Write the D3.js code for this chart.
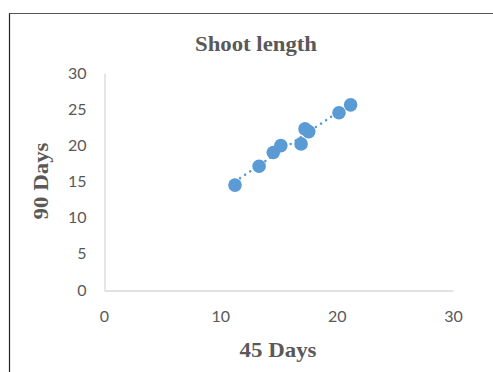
<!DOCTYPE html>
<html><head><meta charset="utf-8">
<script src="https://cdn.jsdelivr.net/npm/d3@7"></script>
<style>body{margin:0;background:#fff}svg{display:block}</style>
</head><body>
<svg id="c" width="493" height="372"></svg>
<script>
const days45 = [11.26, 13.33, 14.55, 15.2, 16.94, 17.28, 17.6, 20.2, 21.2];
const days90 = [14.5, 17.1, 19.0, 19.96, 20.2, 22.27, 21.9, 24.5, 25.6];
const xTicks = [0, 10, 20, 30];
const yTicks = [0, 5, 10, 15, 20, 25, 30];
const title = "Shoot length";
const xTitle = "45 Days";
const yTitle = "90 Days";

const svg = d3.select("#c");
// outer frame
svg.append("line").attr("x1",9.5).attr("x2",9.5).attr("y1",13).attr("y2",372).attr("stroke","#222").attr("stroke-width",1.2);
svg.append("line").attr("x1",9).attr("x2",493).attr("y1",13.5).attr("y2",13.5).attr("stroke","#555").attr("stroke-width",1.2);

const x = d3.scaleLinear().domain([0,30]).range([104,453]);
const y = d3.scaleLinear().domain([0,30]).range([290,73]);

const font = "Lato, 'Open Sans', sans-serif";
const xAxis = svg.append("g").attr("transform","translate(0,290.5)")
  .call(d3.axisBottom(x).tickValues(xTicks).tickSize(0).tickPadding(20));
const yAxis = svg.append("g").attr("transform","translate(104.5,0)")
  .call(d3.axisLeft(y).tickValues(yTicks).tickSize(0).tickPadding(18));
[xAxis,yAxis].forEach(a=>{
  a.select(".domain").attr("stroke","#d9d9d9").attr("stroke-width",1.3);
  a.selectAll("text").attr("fill","#595959").attr("font-size",16).attr("font-family",font);
});

// trendline (least squares)
const mx = d3.mean(days45), my = d3.mean(days90);
const slope = d3.sum(days45.map((v,i)=>(v-mx)*(days90[i]-my))) / d3.sum(days45.map(v=>(v-mx)**2));
const icpt = my - slope*mx;
const x0 = d3.min(days45), x1 = d3.max(days45);
svg.append("line")
  .attr("x1",x(x0)).attr("y1",y(icpt+slope*x0))
  .attr("x2",x(x1)).attr("y2",y(icpt+slope*x1))
  .attr("stroke","#5b9bd5").attr("stroke-width",2.5)
  .attr("stroke-dasharray","0.1 6").attr("stroke-linecap","round");

svg.append("g").selectAll("circle").data(days45).join("circle")
  .attr("cx",(d)=>x(d)).attr("cy",(d,i)=>y(days90[i])).attr("r",6.8)
  .attr("fill","#5b9bd5");

const serif = "'Liberation Serif', 'Times New Roman', serif";
svg.append("text").attr("x",256).attr("y",51).attr("text-anchor","middle")
  .attr("font-family",serif).attr("font-weight","bold")
  .attr("font-size",20).attr("textLength",122).attr("lengthAdjust","spacingAndGlyphs")
  .attr("fill","#595959").text(title);
svg.append("text").attr("x",278).attr("y",357).attr("text-anchor","middle")
  .attr("font-family",serif).attr("font-weight","bold")
  .attr("font-size",21).attr("textLength",77).attr("lengthAdjust","spacingAndGlyphs")
  .attr("fill","#595959").text(xTitle);
svg.append("text").attr("transform","translate(48,181) rotate(-90)").attr("text-anchor","middle")
  .attr("font-family",serif).attr("font-weight","bold")
  .attr("font-size",21).attr("textLength",77).attr("lengthAdjust","spacingAndGlyphs")
  .attr("fill","#595959").text(yTitle);
</script>
</body></html>
